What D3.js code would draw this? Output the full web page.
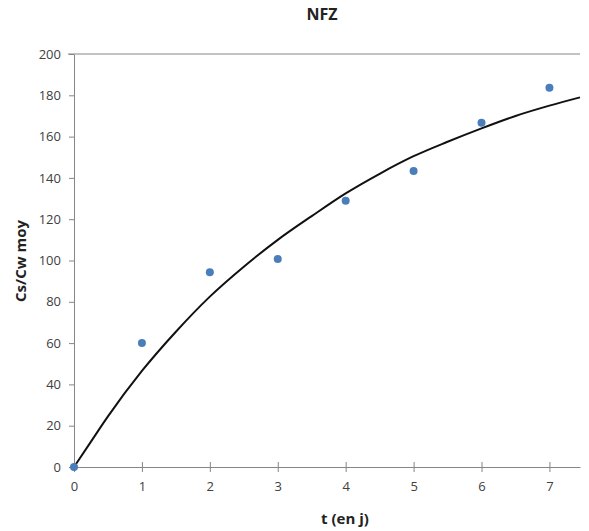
<!DOCTYPE html>
<html><head><meta charset="utf-8">
<script src="https://cdn.jsdelivr.net/npm/d3@7"></script>
<style>body{margin:0;background:#fff}svg{display:block}text{font-family:"Open Sans",Lato,sans-serif}</style>
</head><body><svg id="c" width="589" height="531"></svg>
<script>
const title = "NFZ";
const xLabel = "t (en j)";
const yLabel = "Cs/Cw moy";
const xTicks = [0,1,2,3,4,5,6,7];
const yTicks = [0,20,40,60,80,100,120,140,160,180,200];
const obsT = [0,1,2,3,4,5,6,7];
const obsV = [0,60,94.3,100.7,128.9,143.3,166.7,183.6];
const fitT = [0,0.25,0.5,1,1.5,2,2.5,3,3.5,4,4.5,5,5.5,6,6.5,7,7.45];
const fitV = [0,12.3,24.5,46.5,65.5,82.5,97,110,121.5,132.5,142,150.5,157.5,164,170,175,179];

const svg = d3.select("#c");
const x = d3.scaleLinear().domain([0,7.45]).range([74,580]);
const y = d3.scaleLinear().domain([0,200]).range([467,54]);
const axisCol = "#868686", textCol = "#404040";

svg.append("line").attr("x1",68).attr("x2",580).attr("y1",y(200)).attr("y2",y(200))
  .attr("stroke",axisCol).attr("stroke-width",1);

const ya = svg.append("g").attr("transform",`translate(${x(0)},0)`)
  .call(d3.axisLeft(y).tickValues(yTicks).tickSize(5).tickPadding(8).tickSizeOuter(0));
ya.select(".domain").attr("stroke",axisCol);
ya.selectAll(".tick line").attr("stroke",axisCol);
ya.selectAll("text").attr("fill",textCol).style("font-size","13px");

const xa = svg.append("g").attr("transform",`translate(0,${y(0)})`)
  .call(d3.axisBottom(x).tickValues(xTicks).tickSize(5).tickPadding(10).tickSizeOuter(0));
xa.select(".domain").attr("stroke",axisCol);
xa.selectAll(".tick line").attr("stroke",axisCol).attr("y1",-5).attr("y2",5);
xa.selectAll("text").attr("fill",textCol).style("font-size","13px");

const fit = fitT.map((t,i)=>[t,fitV[i]]);
svg.append("path").datum(fit)
  .attr("d", d3.line().x(d=>x(d[0])).y(d=>y(d[1])).curve(d3.curveMonotoneX))
  .attr("fill","none").attr("stroke","#111").attr("stroke-width",2);

svg.selectAll("circle.o").data(obsT.map((t,i)=>[t,obsV[i]])).join("circle")
  .attr("class","o").attr("cx",d=>x(d[0])).attr("cy",d=>y(d[1])).attr("r",4)
  .attr("fill","#4a7ebb");

svg.append("text").attr("x",322).attr("y",20).attr("text-anchor","middle")
  .attr("font-weight","bold").attr("fill","#222").style("font-size","16px").text(title);
svg.append("text").attr("x",345).attr("y",524).attr("text-anchor","middle")
  .attr("font-weight","bold").attr("fill","#222").style("font-size","15px").text(xLabel);
svg.append("text").attr("transform","translate(26,261) rotate(-90)").attr("text-anchor","middle")
  .attr("font-weight","bold").attr("fill","#222").style("font-size","15px").text(yLabel);
</script></body></html>
